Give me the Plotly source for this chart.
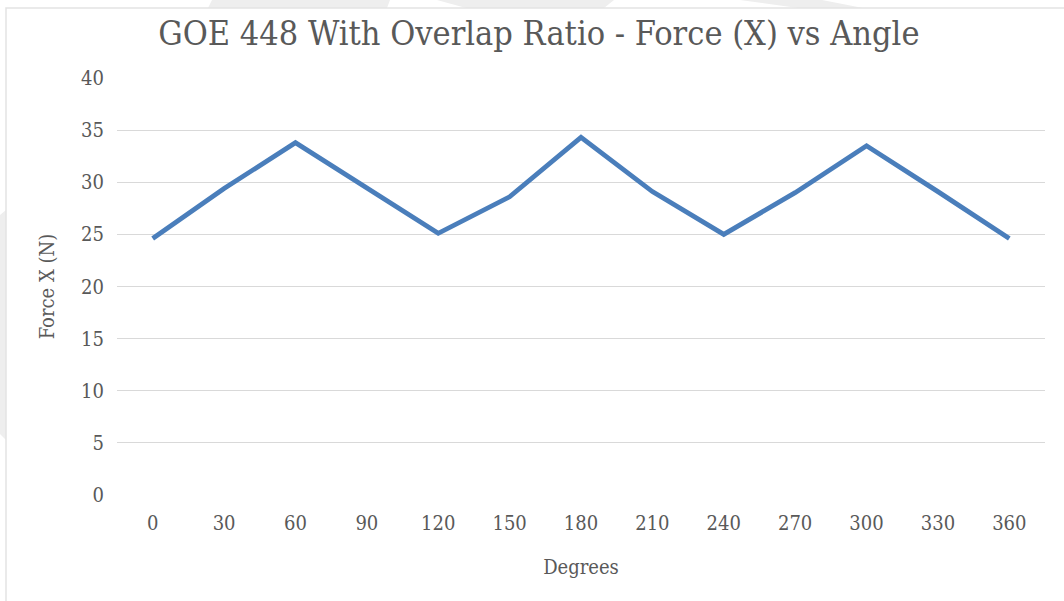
import plotly.graph_objects as go

degrees = ["0", "30", "60", "90", "120", "150", "180", "210", "240", "270", "300", "330", "360"]
force_x = [24.6, 29.4, 33.8, 29.4, 25.1, 28.6, 34.3, 29.1, 25.0, 29.0, 33.5, 29.1, 24.6]
y_ticks = [0, 5, 10, 15, 20, 25, 30, 35, 40]

FONT = "DejaVu Serif Condensed, DejaVu Serif, serif"
GRAY = "#595959"

# layout geometry (pixels)
W, H = 1064, 601
L, R, T, B = 117, 19, 78, 106
PW, PH = W - L - R, H - T - B


def px(x):
    return (x - L) / PW


def py(y):
    return (H - B - y) / PH


def poly(points):
    return "M " + " L ".join(f"{px(a):.5f},{py(b):.5f}" for a, b in points) + " Z"


bg_fill = "#eeeeee"
shapes = [
    dict(type="path", xref="paper", yref="paper", path=poly([(212, 0), (390, 0), (387, 8), (208, 8)]),
         fillcolor=bg_fill, line=dict(width=0), layer="below"),
    dict(type="path", xref="paper", yref="paper", path=poly([(437, 0), (614, 0), (604, 8), (466, 8)]),
         fillcolor=bg_fill, line=dict(width=0), layer="below"),
    dict(type="path", xref="paper", yref="paper", path=poly([(740, 0), (822, 0), (863, 8), (798, 8)]),
         fillcolor=bg_fill, line=dict(width=0), layer="below"),
    dict(type="path", xref="paper", yref="paper", path=poly([(0, 215), (6, 210), (6, 440), (0, 434)]),
         fillcolor=bg_fill, line=dict(width=0), layer="below"),
    dict(type="rect", xref="paper", yref="paper", x0=px(6), x1=px(1075), y0=py(612), y1=py(8),
         line=dict(color="#e3e3e3", width=1.5), layer="below"),
]

fig = go.Figure()
fig.add_trace(go.Scatter(
    x=degrees, y=force_x, mode="lines",
    line=dict(color="#4a7ebb", width=4.8),
    showlegend=False, hoverinfo="skip",
))

fig.update_layout(
    width=W, height=H,
    paper_bgcolor="white", plot_bgcolor="white",
    margin=dict(l=L, r=R, t=T, b=B),
    title=dict(text="GOE 448 With Overlap Ratio - Force (X) vs Angle",
               x=0.4546, xanchor="center", y=0.945, yanchor="middle", xref="paper",
               font=dict(family=FONT, size=34, color=GRAY)),
    xaxis=dict(type="category", range=[-0.5, 12.5], showgrid=False, showline=False, zeroline=False,
               ticks="", ticklabelstandoff=14, tickfont=dict(family=FONT, size=20, color=GRAY),
               title=dict(text="Degrees", font=dict(family=FONT, size=20, color=GRAY), standoff=25)),
    yaxis=dict(range=[0, 40], tickvals=y_ticks, showgrid=True, gridcolor="#d9d9d9", gridwidth=1.3,
               zeroline=False, showline=False, ticks="", ticklabelstandoff=12,
               tickfont=dict(family=FONT, size=20, color=GRAY),
               title=dict(text="Force X (N)", font=dict(family=FONT, size=20, color=GRAY), standoff=21)),
    shapes=shapes,
)

fig.write_html("out.html", config={"displayModeBar": False},
               post_script="document.body.style.margin='0';")
